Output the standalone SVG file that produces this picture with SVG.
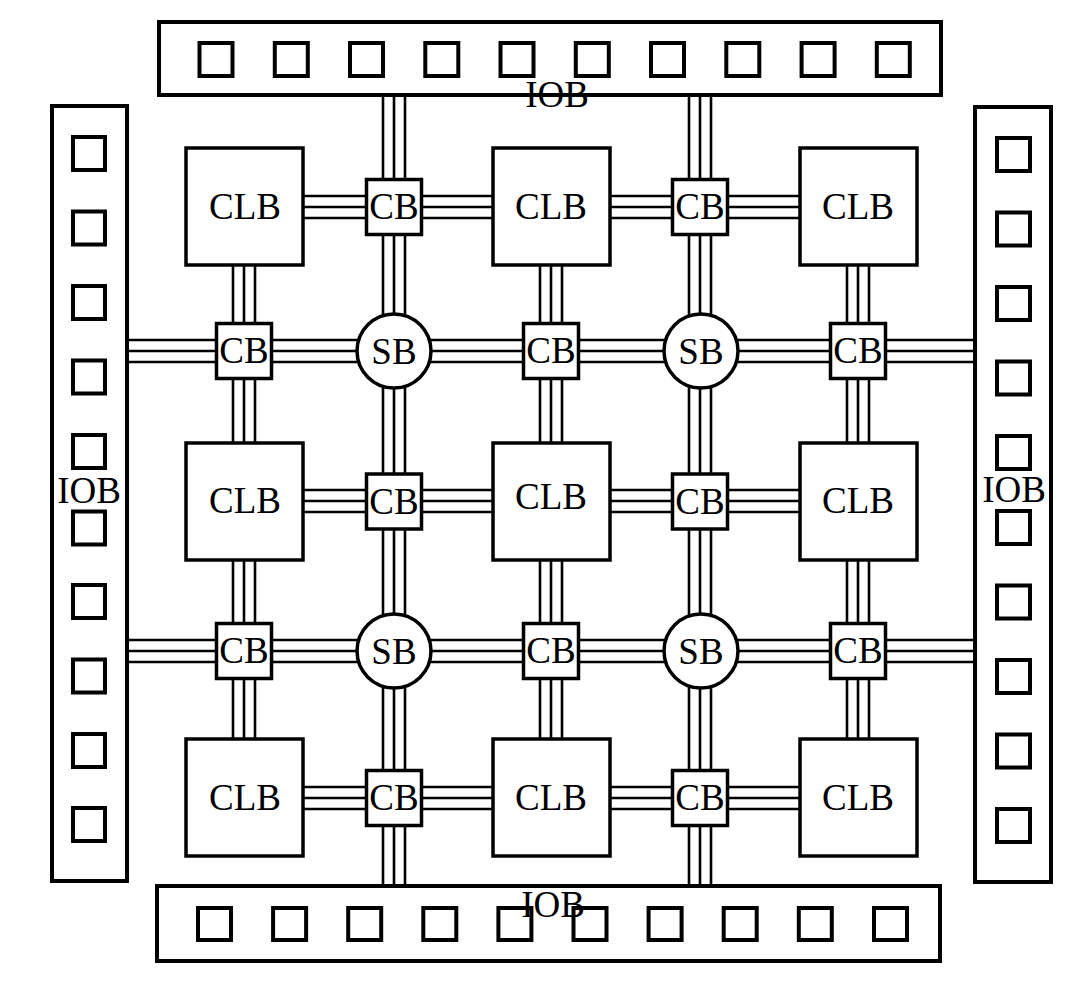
<svg xmlns="http://www.w3.org/2000/svg" width="1085" height="981" viewBox="0 0 1085 981">
<style>
.bg{fill:#ffffff}
.iob{fill:#ffffff;stroke:#000;stroke-width:4}
.pad{fill:#ffffff;stroke:#000;stroke-width:4}
.clb,.cb,.sb{fill:#ffffff;stroke:#000;stroke-width:3.5}
.wire{fill:none;stroke:#000;stroke-width:2.6}
.t{font-family:"Liberation Serif","Times New Roman",serif;font-size:37px;fill:#000;text-anchor:middle}
</style>
<rect class="bg" x="0" y="0" width="1085" height="981"/>

<g id="connectors">
  <!-- vertical channel x=394 -->
  <path class="wire" d="M383 95V207M394 95V207M405 95V207"/>
  <path class="wire" d="M383 207V351M394 207V351M405 207V351"/>
  <path class="wire" d="M383 351V501M394 351V501M405 351V501"/>
  <path class="wire" d="M383 501V651M394 501V651M405 501V651"/>
  <path class="wire" d="M383 651V798M394 651V798M405 651V798"/>
  <path class="wire" d="M383 798V886M394 798V886M405 798V886"/>
  <!-- vertical channel x=700 -->
  <path class="wire" d="M689 95V207M700 95V207M711 95V207"/>
  <path class="wire" d="M689 207V351M700 207V351M711 207V351"/>
  <path class="wire" d="M689 351V501M700 351V501M711 351V501"/>
  <path class="wire" d="M689 501V651M700 501V651M711 501V651"/>
  <path class="wire" d="M689 651V798M700 651V798M711 651V798"/>
  <path class="wire" d="M689 798V886M700 798V886M711 798V886"/>
  <!-- horizontal channel y=351 -->
  <path class="wire" d="M127 340H244M127 351H244M127 362H244"/>
  <path class="wire" d="M244 340H394M244 351H394M244 362H394"/>
  <path class="wire" d="M394 340H551M394 351H551M394 362H551"/>
  <path class="wire" d="M551 340H700M551 351H700M551 362H700"/>
  <path class="wire" d="M700 340H858M700 351H858M700 362H858"/>
  <path class="wire" d="M858 340H975M858 351H975M858 362H975"/>
  <!-- horizontal channel y=651 -->
  <path class="wire" d="M127 640H244M127 651H244M127 662H244"/>
  <path class="wire" d="M244 640H394M244 651H394M244 662H394"/>
  <path class="wire" d="M394 640H551M394 651H551M394 662H551"/>
  <path class="wire" d="M551 640H700M551 651H700M551 662H700"/>
  <path class="wire" d="M700 640H858M700 651H858M700 662H858"/>
  <path class="wire" d="M858 640H975M858 651H975M858 662H975"/>
  <!-- CLB rows to CBs -->
  <path class="wire" d="M303 196H394M303 207H394M303 218H394"/>
  <path class="wire" d="M394 196H493M394 207H493M394 218H493"/>
  <path class="wire" d="M610 196H700M610 207H700M610 218H700"/>
  <path class="wire" d="M700 196H800M700 207H800M700 218H800"/>
  <path class="wire" d="M303 490H394M303 501H394M303 512H394"/>
  <path class="wire" d="M394 490H493M394 501H493M394 512H493"/>
  <path class="wire" d="M610 490H700M610 501H700M610 512H700"/>
  <path class="wire" d="M700 490H800M700 501H800M700 512H800"/>
  <path class="wire" d="M303 787H394M303 798H394M303 809H394"/>
  <path class="wire" d="M394 787H493M394 798H493M394 809H493"/>
  <path class="wire" d="M610 787H700M610 798H700M610 809H700"/>
  <path class="wire" d="M700 787H800M700 798H800M700 809H800"/>
  <!-- CLB columns to CBs -->
  <path class="wire" d="M233 265V351M244 265V351M255 265V351"/>
  <path class="wire" d="M233 351V443M244 351V443M255 351V443"/>
  <path class="wire" d="M233 560V651M244 560V651M255 560V651"/>
  <path class="wire" d="M233 651V739M244 651V739M255 651V739"/>
  <path class="wire" d="M540 265V351M551 265V351M562 265V351"/>
  <path class="wire" d="M540 351V443M551 351V443M562 351V443"/>
  <path class="wire" d="M540 560V651M551 560V651M562 560V651"/>
  <path class="wire" d="M540 651V739M551 651V739M562 651V739"/>
  <path class="wire" d="M847 265V351M858 265V351M869 265V351"/>
  <path class="wire" d="M847 351V443M858 351V443M869 351V443"/>
  <path class="wire" d="M847 560V651M858 560V651M869 560V651"/>
  <path class="wire" d="M847 651V739M858 651V739M869 651V739"/>
</g>

<g id="iob-top">
  <rect class="iob" x="159" y="22" width="782" height="73"/>
  <rect class="pad" x="199.5" y="43" width="33" height="33"/>
  <rect class="pad" x="274.8" y="43" width="33" height="33"/>
  <rect class="pad" x="350" y="43" width="33" height="33"/>
  <rect class="pad" x="425.3" y="43" width="33" height="33"/>
  <rect class="pad" x="500.5" y="43" width="33" height="33"/>
  <rect class="pad" x="575.8" y="43" width="33" height="33"/>
  <rect class="pad" x="651" y="43" width="33" height="33"/>
  <rect class="pad" x="726.3" y="43" width="33" height="33"/>
  <rect class="pad" x="801.6" y="43" width="33" height="33"/>
  <rect class="pad" x="876.8" y="43" width="33" height="33"/>
  <text class="t" x="557" y="107">IOB</text>
</g>

<g id="iob-bottom">
  <rect class="iob" x="157" y="886" width="783" height="75"/>
  <rect class="pad" x="198" y="908" width="33" height="32"/>
  <rect class="pad" x="273.1" y="908" width="33" height="32"/>
  <rect class="pad" x="348.2" y="908" width="33" height="32"/>
  <rect class="pad" x="423.3" y="908" width="33" height="32"/>
  <rect class="pad" x="498.4" y="908" width="33" height="32"/>
  <rect class="pad" x="573.5" y="908" width="33" height="32"/>
  <rect class="pad" x="648.6" y="908" width="33" height="32"/>
  <rect class="pad" x="723.7" y="908" width="33" height="32"/>
  <rect class="pad" x="798.8" y="908" width="33" height="32"/>
  <rect class="pad" x="874" y="908" width="33" height="32"/>
  <text class="t" x="553" y="917">IOB</text>
</g>

<g id="iob-left">
  <rect class="iob" x="52" y="106" width="75" height="775"/>
  <rect class="pad" x="73" y="137" width="32" height="33"/>
  <rect class="pad" x="73" y="211.5" width="32" height="33"/>
  <rect class="pad" x="73" y="286" width="32" height="33"/>
  <rect class="pad" x="73" y="360.5" width="32" height="33"/>
  <rect class="pad" x="73" y="435" width="32" height="33"/>
  <rect class="pad" x="73" y="511.5" width="32" height="33"/>
  <rect class="pad" x="73" y="585" width="32" height="33"/>
  <rect class="pad" x="73" y="659.5" width="32" height="33"/>
  <rect class="pad" x="73" y="734" width="32" height="33"/>
  <rect class="pad" x="73" y="808" width="32" height="33"/>
  <text class="t" x="89" y="503">IOB</text>
</g>

<g id="iob-right">
  <rect class="iob" x="975" y="107" width="76" height="775"/>
  <rect class="pad" x="997" y="138" width="33" height="33"/>
  <rect class="pad" x="997" y="212.5" width="33" height="33"/>
  <rect class="pad" x="997" y="287" width="33" height="33"/>
  <rect class="pad" x="997" y="361.5" width="33" height="33"/>
  <rect class="pad" x="997" y="436" width="33" height="33"/>
  <rect class="pad" x="997" y="511" width="33" height="33"/>
  <rect class="pad" x="997" y="585.5" width="33" height="33"/>
  <rect class="pad" x="997" y="660" width="33" height="33"/>
  <rect class="pad" x="997" y="734.5" width="33" height="33"/>
  <rect class="pad" x="997" y="809" width="33" height="33"/>
  <text class="t" x="1014" y="502">IOB</text>
</g>

<g id="clb-1-1"><rect class="clb" x="186" y="148" width="117" height="117"/><text class="t" x="245" y="219">CLB</text></g>
<g id="clb-1-2"><rect class="clb" x="493" y="148" width="117" height="117"/><text class="t" x="551" y="219">CLB</text></g>
<g id="clb-1-3"><rect class="clb" x="800" y="148" width="117" height="117"/><text class="t" x="858" y="219">CLB</text></g>
<g id="clb-2-1"><rect class="clb" x="186" y="443" width="117" height="117"/><text class="t" x="245" y="513">CLB</text></g>
<g id="clb-2-2"><rect class="clb" x="493" y="443" width="117" height="117"/><text class="t" x="551" y="509">CLB</text></g>
<g id="clb-2-3"><rect class="clb" x="800" y="443" width="117" height="117"/><text class="t" x="858" y="513">CLB</text></g>
<g id="clb-3-1"><rect class="clb" x="186" y="739" width="117" height="117"/><text class="t" x="245" y="810">CLB</text></g>
<g id="clb-3-2"><rect class="clb" x="493" y="739" width="117" height="117"/><text class="t" x="551" y="810">CLB</text></g>
<g id="clb-3-3"><rect class="clb" x="800" y="739" width="117" height="117"/><text class="t" x="858" y="810">CLB</text></g>

<g id="cb-h-1-1"><rect class="cb" x="366.5" y="179.5" width="55" height="55"/><text class="t" x="394" y="219">CB</text></g>
<g id="cb-h-1-2"><rect class="cb" x="672.5" y="179.5" width="55" height="55"/><text class="t" x="700" y="219">CB</text></g>
<g id="cb-v-1-1"><rect class="cb" x="216.5" y="323.5" width="55" height="55"/><text class="t" x="244" y="363">CB</text></g>
<g id="cb-v-1-2"><rect class="cb" x="523.5" y="323.5" width="55" height="55"/><text class="t" x="551" y="363">CB</text></g>
<g id="cb-v-1-3"><rect class="cb" x="830.5" y="323.5" width="55" height="55"/><text class="t" x="858" y="363">CB</text></g>
<g id="cb-h-2-1"><rect class="cb" x="366.5" y="474" width="55" height="55"/><text class="t" x="394" y="514">CB</text></g>
<g id="cb-h-2-2"><rect class="cb" x="672.5" y="474" width="55" height="55"/><text class="t" x="700" y="514">CB</text></g>
<g id="cb-v-2-1"><rect class="cb" x="216.5" y="623.5" width="55" height="55"/><text class="t" x="244" y="663">CB</text></g>
<g id="cb-v-2-2"><rect class="cb" x="523.5" y="623.5" width="55" height="55"/><text class="t" x="551" y="663">CB</text></g>
<g id="cb-v-2-3"><rect class="cb" x="830.5" y="623.5" width="55" height="55"/><text class="t" x="858" y="663">CB</text></g>
<g id="cb-h-3-1"><rect class="cb" x="366.5" y="770.5" width="55" height="55"/><text class="t" x="394" y="810">CB</text></g>
<g id="cb-h-3-2"><rect class="cb" x="672.5" y="770.5" width="55" height="55"/><text class="t" x="700" y="810">CB</text></g>

<g id="sb-1-1"><circle class="sb" cx="394" cy="351" r="37"/><text class="t" x="394" y="364">SB</text></g>
<g id="sb-1-2"><circle class="sb" cx="701" cy="351" r="37"/><text class="t" x="701" y="364">SB</text></g>
<g id="sb-2-1"><circle class="sb" cx="394" cy="651" r="37"/><text class="t" x="394" y="664">SB</text></g>
<g id="sb-2-2"><circle class="sb" cx="701" cy="651" r="37"/><text class="t" x="701" y="664">SB</text></g>
</svg>
